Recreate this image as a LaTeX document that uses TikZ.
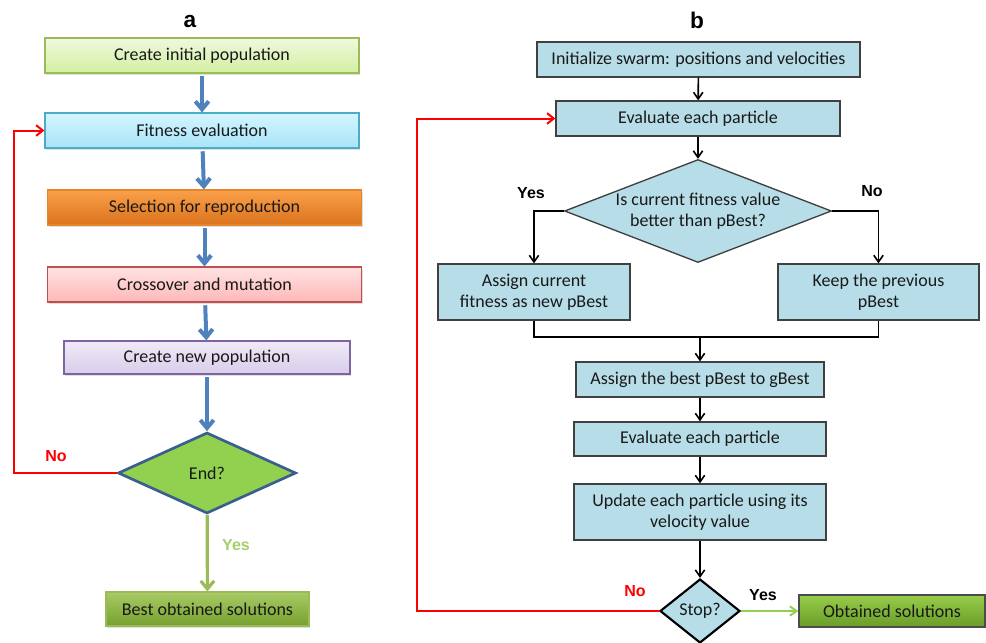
\documentclass[tikz,border=0pt]{standalone}
\usepackage{fontspec}
\setmainfont{Carlito}
\newfontfamily\arialfont{Liberation Sans}
\usetikzlibrary{shapes.geometric}
\usetikzlibrary{arrows.meta, shadows}

\definecolor{gaGreenT}{HTML}{EEF9DC}\definecolor{gaGreenB}{HTML}{D3EFA2}\definecolor{gaGreenD}{HTML}{9BBB59}
\definecolor{gaCyanT}{HTML}{D4F5FF}\definecolor{gaCyanB}{HTML}{A8E4F8}\definecolor{gaCyanD}{HTML}{4BACC6}
\definecolor{gaOrangeT}{HTML}{FBA04A}\definecolor{gaOrangeB}{HTML}{DA721C}\definecolor{gaOrangeD}{HTML}{E7842E}
\definecolor{gaPinkT}{HTML}{FFE2E2}\definecolor{gaPinkB}{HTML}{FFB8B8}\definecolor{gaPinkD}{HTML}{C0504D}
\definecolor{gaLilacT}{HTML}{EFEAF7}\definecolor{gaLilacB}{HTML}{D8CDEA}\definecolor{gaLilacD}{HTML}{8064A2}
\definecolor{gaEnd}{HTML}{92D050}\definecolor{gaEndD}{HTML}{3A5F8C}
\definecolor{gaBestT}{HTML}{A8CB66}\definecolor{gaBestB}{HTML}{76A02E}
\definecolor{psoFill}{HTML}{B7DDE8}
\definecolor{psoObtT}{HTML}{97CC4A}\definecolor{psoObtB}{HTML}{6A9C28}
\definecolor{flowBlue}{HTML}{4F81BD}\definecolor{yesGreen}{HTML}{A6CE6B}\definecolor{yesLine}{HTML}{92D050}

\begin{document}
\begin{tikzpicture}[x=0.75pt,y=-0.75pt,
  font=\fontsize{13.5}{15.75}\selectfont,
  gabox/.style={draw, line width=0.9pt, inner sep=0pt, minimum width=235.5pt, minimum height=26.25pt, text=black!90,
    drop shadow={shadow xshift=0.8pt, shadow yshift=-1.2pt, opacity=0.25}},
  psobox/.style={draw=black!75, line width=1pt, fill=psoFill, inner sep=0pt, align=center, text=black!90,
    drop shadow={shadow xshift=0.8pt, shadow yshift=-1pt, opacity=0.2}},
  flowa/.style={draw=flowBlue, line width=3pt, shorten <=2pt, -{Straight Barb[length=6pt,width=10pt]}},
  flowb/.style={draw=black, line width=1.2pt, -{Straight Barb[length=5pt,width=7pt]}},
  loopback/.style={draw=red, line width=1.5pt, -{Straight Barb[length=5pt,width=8pt]}},
  panel/.style={font=\arialfont\bfseries\fontsize{17}{17}\selectfont},
  answer/.style={font=\arialfont\bfseries\fontsize{12}{13}\selectfont}]
\path[use as bounding box, fill=white] (0,0) rectangle (986,643);

% (a) genetic algorithm
\node[panel] (pa) at (190,22) {a};
\node[gabox, draw=gaGreenD, top color=gaGreenT, bottom color=gaGreenB] (ga1) at (202,55.5) {Create initial population};
\node[gabox, draw=gaCyanD, top color=gaCyanT, bottom color=gaCyanB] (ga2) at (202,130.5) {Fitness evaluation};
\node[gabox, draw=gaOrangeD, top color=gaOrangeT, bottom color=gaOrangeB] (ga3) at (204.5,207.5) {Selection for reproduction};
\node[gabox, draw=gaPinkD, top color=gaPinkT, bottom color=gaPinkB] (ga4) at (204.5,284.5) {Crossover and mutation};
\node[gabox, draw=gaLilacD, top color=gaLilacT, bottom color=gaLilacB, minimum width=214.5pt, minimum height=24.75pt] (ga5) at (207,357.5) {Create new population};
\node[diamond, draw=gaEndD, line width=2pt, fill=gaEnd, aspect=2.2, inner sep=0pt, minimum width=133.5pt, minimum height=60.75pt, text=black!90] (gend) at (207,473) {End?};
\node[gabox, draw=gaGreenD, top color=gaBestT, bottom color=gaBestB, minimum width=152.25pt, minimum height=25.5pt] (gbest) at (207.5,609) {Best obtained solutions};

\draw[flowa] (ga1) -- (ga2);
\draw[flowa] (ga2) -- (ga3);
\draw[flowa] (ga3) -- (ga4);
\draw[flowa] (ga4) -- (ga5);
\draw[flowa] (ga5) -- (gend);
\draw[flowa, draw=gaGreenD, line width=2.4pt, shorten <=0pt] (gend) -- (gbest);
\node[answer, text=yesGreen] (gyes) at (236,545) {Yes};

\coordinate (loopa) at (14,0);
\draw[loopback] (gend.west) -- (gend.west -| loopa) |- (ga2.west);
\node[answer, text=red] (gno) at (56,456) {No};

% (b) particle swarm optimisation
\node[panel] (pb) at (697,20) {b};
\node[psobox, minimum width=242.25pt, minimum height=26.25pt] (pso1) at (698.5,59.5) {Initialize swarm: positions and velocities};
\node[psobox, minimum width=213pt, minimum height=26.25pt] (pso2) at (698,118.5) {Evaluate each particle};
\node[diamond, draw=black!75, line width=1pt, fill=psoFill, aspect=2.6, inner sep=0pt, align=center, text=black!90,
  minimum width=200.25pt, minimum height=77.25pt] (pbest) at (698,211) {Is current fitness value\\better than pBest?};
\node[psobox, minimum width=144pt, minimum height=42pt] (pyes) at (534,292) {Assign current\\fitness as new pBest};
\node[psobox, minimum width=150.75pt, minimum height=42pt] (pkeep) at (878.5,292) {Keep the previous\\pBest};
\coordinate (pjoin) at (700,337);
\node[psobox, minimum width=186pt, minimum height=26.25pt] (pgbest) at (700,379.5) {Assign the best pBest to gBest};
\node[psobox, minimum width=189pt, minimum height=25.5pt] (pso3) at (700,439) {Evaluate each particle};
\node[psobox, minimum width=189pt, minimum height=42pt] (pupd) at (700,512) {Update each particle using its\\velocity value};
\node[diamond, draw=black, line width=1.6pt, fill=psoFill, aspect=1.25, inner sep=0pt, text=black!90,
  minimum width=60pt, minimum height=48pt] (pstop) at (700,611) {Stop?};
\node[psobox, draw=black!70, top color=psoObtT, bottom color=psoObtB, minimum width=139.5pt, minimum height=24pt] (pobt) at (892,611) {Obtained solutions};

\draw[flowb] (pso1) -- (pso2);
\draw[flowb] (pso2) -- (pbest);
\draw[flowb] (pbest.west) -| (pyes.north);
\draw[flowb] (pbest.east) -| (pkeep.north);
\node[answer] (pyeslab) at (531,193) {Yes};
\node[answer] (pnolab) at (872,191) {No};
\draw[black, line width=1.2pt] (pyes.south) |- (pjoin) -| (pkeep.south);
\draw[flowb] (pjoin) -- (pgbest);
\draw[flowb] (pgbest) -- (pso3);
\draw[flowb] (pso3) -- (pupd);
\draw[flowb] (pupd) -- (pstop);
\draw[flowb, draw=yesLine, line width=1.5pt] (pstop.east) -- (pobt.west);
\node[answer] (pstopyes) at (763,595) {Yes};

\coordinate (loopb) at (417,0);
\draw[loopback] (pstop.west) -- (pstop.west -| loopb) |- (pso2.west);
\node[answer, text=red] (pstopno) at (635,591) {No};
\end{tikzpicture}
\end{document}
